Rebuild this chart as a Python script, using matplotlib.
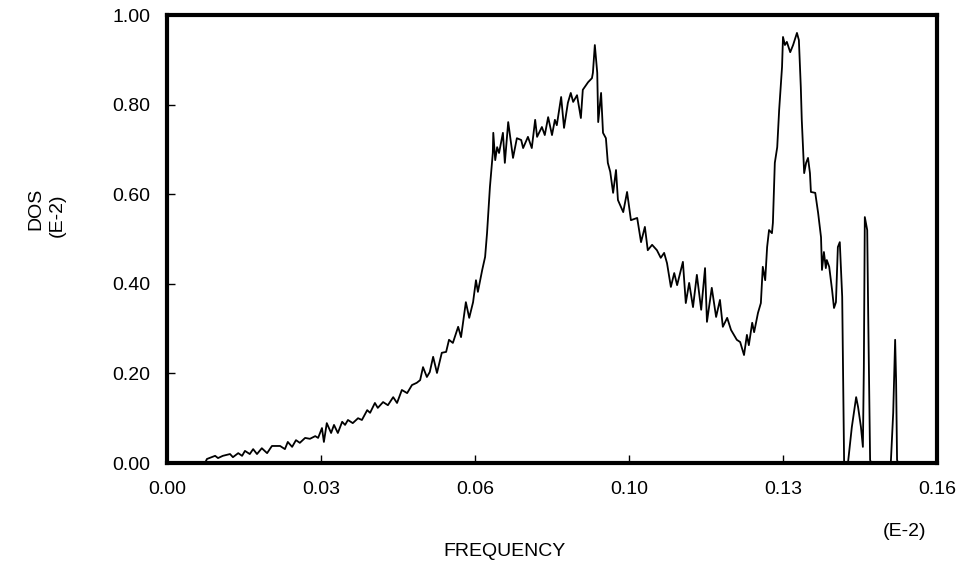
import matplotlib
matplotlib.use("Agg")
import matplotlib.pyplot as plt

plt.rcParams["font.family"] = ["Liberation Sans", "DejaVu Sans"]

# frequency (E-2) and DOS (E-2)
freq = [
    0.0079, 0.0083, 0.0100, 0.0106, 0.0116, 0.0131, 0.0137, 0.0148, 0.0156, 0.0162,
    0.0172, 0.0179, 0.0187, 0.0197, 0.0208, 0.0218, 0.0235, 0.0245, 0.0251, 0.0260,
    0.0268, 0.0276, 0.0287, 0.0297, 0.0308, 0.0314, 0.0322, 0.0326, 0.0332, 0.0341,
    0.0347, 0.0355, 0.0364, 0.0370, 0.0376, 0.0386, 0.0397, 0.0405, 0.0416, 0.0422,
    0.0432, 0.0438, 0.0449, 0.0459, 0.0470, 0.0478, 0.0488, 0.0499, 0.0509, 0.0519,
    0.0526, 0.0532, 0.0540, 0.0546, 0.0553, 0.0561, 0.0571, 0.0580, 0.0586, 0.0594,
    0.0605, 0.0611, 0.0621, 0.0628, 0.0636, 0.0642, 0.0646, 0.0655, 0.0661, 0.0665,
    0.0671, 0.0677, 0.0678, 0.0682, 0.0686, 0.0690, 0.0698, 0.0702, 0.0709, 0.0719,
    0.0727, 0.0736, 0.0740, 0.0750, 0.0758, 0.0765, 0.0769, 0.0779, 0.0785, 0.0792,
    0.0800, 0.0806, 0.0810, 0.0819, 0.0825, 0.0833, 0.0839, 0.0844, 0.0852, 0.0860,
    0.0864, 0.0875, 0.0883, 0.0885, 0.0889, 0.0894, 0.0896, 0.0902, 0.0906, 0.0912,
    0.0916, 0.0921, 0.0927, 0.0933, 0.0937, 0.0948, 0.0956, 0.0964, 0.0977, 0.0985,
    0.0993, 0.0999, 0.1008, 0.1018, 0.1026, 0.1033, 0.1039, 0.1047, 0.1054, 0.1060,
    0.1072, 0.1078, 0.1085, 0.1093, 0.1101, 0.1110, 0.1118, 0.1122, 0.1132, 0.1141,
    0.1149, 0.1155, 0.1164, 0.1172, 0.1184, 0.1191, 0.1199, 0.1205, 0.1209, 0.1216,
    0.1220, 0.1228, 0.1234, 0.1238, 0.1243, 0.1247, 0.1251, 0.1257, 0.1259, 0.1263,
    0.1268, 0.1272, 0.1278, 0.1280, 0.1284, 0.1288, 0.1295, 0.1301, 0.1309, 0.1313,
    0.1317, 0.1319, 0.1324, 0.1328, 0.1332, 0.1336, 0.1338, 0.1347, 0.1353, 0.1359,
    0.1361, 0.1365, 0.1369, 0.1371, 0.1376, 0.1382, 0.1386, 0.1390, 0.1394, 0.1398,
    0.1403, 0.1405, 0.1407, 0.1415, 0.1423, 0.1432, 0.1436, 0.1442, 0.1446, 0.1448,
    0.1450, 0.1455, 0.1457, 0.1461, 0.1463, 0.1504, 0.1509, 0.1513, 0.1515, 0.1517,
    0.1519,
]
dos = [
    0.000, 0.009, 0.016, 0.011, 0.016, 0.020, 0.013, 0.022, 0.016, 0.027,
    0.020, 0.031, 0.020, 0.033, 0.022, 0.038, 0.038, 0.031, 0.047, 0.036,
    0.051, 0.045, 0.056, 0.054, 0.060, 0.056, 0.078, 0.047, 0.089, 0.067,
    0.085, 0.067, 0.092, 0.085, 0.096, 0.089, 0.100, 0.096, 0.118, 0.112,
    0.134, 0.123, 0.136, 0.129, 0.147, 0.134, 0.163, 0.156, 0.174, 0.179,
    0.185, 0.214, 0.192, 0.203, 0.237, 0.201, 0.246, 0.248, 0.275, 0.268,
    0.304, 0.281, 0.359, 0.324, 0.359, 0.408, 0.382, 0.431, 0.460, 0.513,
    0.616, 0.692, 0.737, 0.676, 0.705, 0.692, 0.737, 0.670, 0.761, 0.681,
    0.725, 0.721, 0.703, 0.728, 0.703, 0.766, 0.728, 0.750, 0.732, 0.772,
    0.732, 0.766, 0.754, 0.817, 0.748, 0.804, 0.826, 0.806, 0.821, 0.770,
    0.833, 0.850, 0.859, 0.871, 0.933, 0.871, 0.761, 0.826, 0.737, 0.725,
    0.670, 0.650, 0.603, 0.654, 0.587, 0.560, 0.605, 0.542, 0.547, 0.493,
    0.527, 0.475, 0.487, 0.475, 0.458, 0.469, 0.446, 0.393, 0.424, 0.397,
    0.449, 0.357, 0.402, 0.348, 0.420, 0.342, 0.435, 0.315, 0.391, 0.326,
    0.364, 0.304, 0.324, 0.297, 0.275, 0.270, 0.241, 0.286, 0.263, 0.313,
    0.292, 0.335, 0.357, 0.438, 0.408, 0.482, 0.520, 0.513, 0.536, 0.670,
    0.705, 0.788, 0.884, 0.951, 0.933, 0.940, 0.917, 0.933, 0.960, 0.944,
    0.839, 0.766, 0.647, 0.670, 0.681, 0.647, 0.605, 0.603, 0.558, 0.504,
    0.431, 0.471, 0.435, 0.453, 0.438, 0.386, 0.346, 0.359, 0.482, 0.493,
    0.371, 0.185, 0.000, 0.000, 0.080, 0.147, 0.125, 0.080, 0.036, 0.214,
    0.549, 0.520, 0.335, 0.007, 0.000, 0.000, 0.112, 0.275, 0.185, 0.007,
    0.000,
]

xticks = [0.0, 0.032, 0.064, 0.096, 0.128, 0.16]
xtick_labels = ["0.00", "0.03", "0.06", "0.10", "0.13", "0.16"]
yticks = [0.0, 0.2, 0.4, 0.6, 0.8, 1.0]
ytick_labels = ["0.00", "0.20", "0.40", "0.60", "0.80", "1.00"]

fig = plt.figure(figsize=(9.73, 5.70), dpi=100)
ax = fig.add_axes([167 / 973, 107 / 570, 770 / 973, 448 / 570])

ax.plot(freq, dos, color="black", linewidth=1.3)

ax.set_xlim(0, 0.16)
ax.set_ylim(0, 1.0)
ax.set_xticks(xticks)
ax.set_xticklabels(xtick_labels)
ax.set_yticks(yticks)
ax.set_yticklabels(ytick_labels)
ax.tick_params(direction="in", length=6, width=1, labelsize=14)
ax.tick_params(axis="x", pad=13)
ax.tick_params(axis="y", pad=12)
for s in ax.spines.values():
    s.set_linewidth(3)

fs = 14
fig.text(905 / 973, 1 - 532 / 570, "(E-2)", ha="center", va="center", fontsize=fs)
fig.text(505 / 973, 1 - 551 / 570, "FREQUENCY", ha="center", va="center", fontsize=fs)
fig.text(36 / 973, 1 - 209 / 570, "DOS", ha="center", va="center", rotation=90, fontsize=fs)
fig.text(57 / 973, 1 - 215 / 570, "(E-2)", ha="center", va="center", rotation=90, fontsize=fs)

fig.savefig("out.png", dpi=100)
